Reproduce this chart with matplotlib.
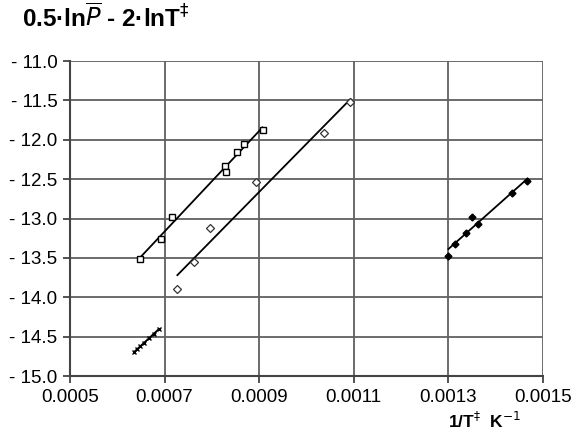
import numpy as np
import matplotlib
matplotlib.use("Agg")
import matplotlib.pyplot as plt
from matplotlib.ticker import FuncFormatter

plt.rcParams["font.family"] = ["Liberation Sans", "DejaVu Sans"]

# series 1: open squares
x_sq = [0.000647, 0.000693, 0.000716, 0.000828, 0.000829, 0.000853, 0.000868, 0.000907]
y_sq = [-13.52, -13.26, -12.98, -12.33, -12.41, -12.16, -12.05, -11.88]

# series 2: open diamonds
x_dm = [0.000727, 0.000763, 0.000797, 0.000893, 0.001036, 0.001093]
y_dm = [-13.89, -13.55, -13.12, -12.54, -11.91, -11.52]

# series 3: filled diamonds
x_fd = [0.001300, 0.001313, 0.001338, 0.001349, 0.001363, 0.001435, 0.001467]
y_fd = [-13.47, -13.33, -13.18, -12.98, -13.07, -12.68, -12.52]

# series 4: small crosses
x_cr = [0.000636, 0.000642, 0.000649, 0.000657, 0.000666, 0.000677, 0.000688]
y_cr = [-14.69, -14.66, -14.62, -14.58, -14.52, -14.47, -14.40]

x_ticks = [0.0005, 0.0007, 0.0009, 0.0011, 0.0013, 0.0015]
y_ticks = [-15.0, -14.5, -14.0, -13.5, -13.0, -12.5, -12.0, -11.5, -11.0]


def fit_line(ax, xs, ys):
    k, b = np.polyfit(xs, ys, 1)
    xx = np.array([min(xs), max(xs)])
    ax.plot(xx, k * xx + b, color="black", lw=1.3, zorder=2)


fig = plt.figure(figsize=(5.73, 4.40), dpi=100)
ax = fig.add_axes([70 / 573, 1 - 376 / 440, 473 / 573, 315 / 440])

fit_line(ax, x_sq, y_sq)
fit_line(ax, x_dm, y_dm)
fit_line(ax, x_fd, y_fd)
fit_line(ax, x_cr, y_cr)

ax.plot(x_sq, y_sq, ls="none", marker="s", ms=5, mfc="white", mec="black", mew=1.0, zorder=3)
ax.plot(x_dm, y_dm, ls="none", marker="D", ms=4, mfc="white", mec="#333333", mew=0.9, zorder=3)
ax.plot(x_fd, y_fd, ls="none", marker="D", ms=3.5, mfc="black", mec="black", zorder=3)
ax.plot(x_cr, y_cr, ls="none", marker="x", ms=3, mec="black", mew=1.0, zorder=3)

ax.set_xlim(0.0005, 0.0015)
ax.set_ylim(-15.0, -11.0)
ax.set_xticks(x_ticks)
ax.set_yticks(y_ticks)
ax.xaxis.set_major_formatter(FuncFormatter(lambda v, p: f"{v:.4f}"))
ax.yaxis.set_major_formatter(FuncFormatter(lambda v, p: f"{v:.1f}".replace("-", "- ")))
ax.grid(True, color="#606060", lw=1.3)
ax.set_axisbelow(True)
for s in ["top", "right"]:
    ax.spines[s].set_visible(False)
for s in ["left", "bottom"]:
    ax.spines[s].set_color("#444444")
    ax.spines[s].set_linewidth(1.5)
ax.tick_params(direction="out", length=5, width=1.3, color="#444444", labelsize=13.5, pad=4)

fig.text(22 / 573, 1 - 27 / 440, r"0.5·ln$\overline{P}$ - 2·lnT$^{‡}$", fontsize=17.5,
         fontweight="bold", ha="left", va="baseline")
fig.text(485 / 573, 1 - 428 / 440, r"1/T$^{‡}$  K$^{-1}$", fontsize=12.5,
         fontweight="bold", ha="center", va="baseline")

fig.savefig("out.png", dpi=100)
